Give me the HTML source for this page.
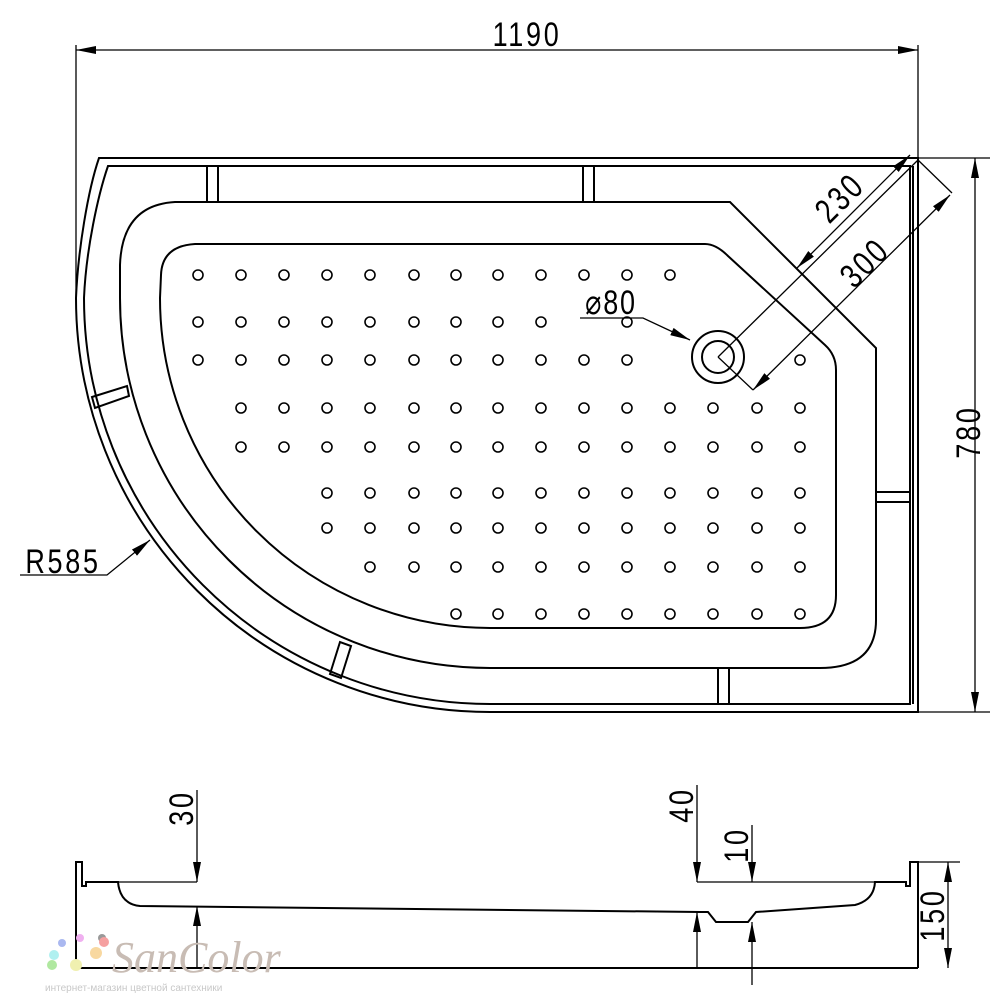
<!DOCTYPE html>
<html><head><meta charset="utf-8"><style>html,body{margin:0;padding:0;background:#fff}svg{display:block}</style></head>
<body>
<svg width="1000" height="1000" viewBox="0 0 1000 1000" xmlns="http://www.w3.org/2000/svg" font-family="Liberation Sans, sans-serif">
<defs>
<marker id="a" viewBox="0 0 20 8" refX="20" refY="4" markerWidth="20" markerHeight="8" markerUnits="userSpaceOnUse" orient="auto"><path d="M0,0L20,4L0,8z" fill="#000"/></marker>
<marker id="s" viewBox="0 0 20 8" refX="0" refY="4" markerWidth="20" markerHeight="8" markerUnits="userSpaceOnUse" orient="auto"><path d="M20,0L0,4L20,8z" fill="#000"/></marker>
</defs>
<g fill="none" stroke="#000" stroke-width="2">
<path d="M918,158 L99,158 C88,190 78,250 76,298 A414,414 0 0 0 490,712 L918,712 Z"/>
<path d="M910,166 L108,166 C98,195 86,250 84,298 A406,406 0 0 0 490,704 L910,704 Z"/>
<line x1="913" y1="166" x2="913" y2="704"/>
<path d="M730,202 L175,202 Q122,205 120,265 L120,298 A370,370 0 0 0 490,668 L820,668 Q876,668 876,620 L876,348 Z"/>
<path d="M705,244 L195,244 Q162,246 161,275 L160,298 A330,330 0 0 0 490,628 L800,628 Q836,628 836,595 L836,370 Q836,355 825,345 L728,256 Q716,244 705,244 Z"/>
<rect x="207" y="166" width="11" height="36"/>
<rect x="583" y="166" width="11" height="36"/>
<rect x="718" y="668" width="11" height="36"/>
<rect x="876" y="492" width="34" height="10"/>
<path d="M92,397 L127,386 L129,396 L95,408 Z"/>
<path d="M330,674 L340,642 L351,646 L341,678 Z"/>
<circle cx="718" cy="357" r="26"/>
<circle cx="718" cy="357" r="16"/>
</g>
<g fill="none" stroke="#000" stroke-width="1.6">
<circle cx="198" cy="275" r="5"/><circle cx="241" cy="275" r="5"/><circle cx="284" cy="275" r="5"/><circle cx="327" cy="275" r="5"/><circle cx="370" cy="275" r="5"/><circle cx="414" cy="275" r="5"/><circle cx="456" cy="275" r="5"/><circle cx="498" cy="275" r="5"/><circle cx="541" cy="275" r="5"/><circle cx="584" cy="275" r="5"/><circle cx="627" cy="275" r="5"/><circle cx="670" cy="275" r="5"/>
<circle cx="198" cy="322" r="5"/><circle cx="241" cy="322" r="5"/><circle cx="284" cy="322" r="5"/><circle cx="327" cy="322" r="5"/><circle cx="370" cy="322" r="5"/><circle cx="414" cy="322" r="5"/><circle cx="456" cy="322" r="5"/><circle cx="498" cy="322" r="5"/><circle cx="541" cy="322" r="5"/><circle cx="627" cy="322" r="5"/>
<circle cx="198" cy="360" r="5"/><circle cx="241" cy="360" r="5"/><circle cx="284" cy="360" r="5"/><circle cx="327" cy="360" r="5"/><circle cx="370" cy="360" r="5"/><circle cx="414" cy="360" r="5"/><circle cx="456" cy="360" r="5"/><circle cx="498" cy="360" r="5"/><circle cx="541" cy="360" r="5"/><circle cx="584" cy="360" r="5"/><circle cx="627" cy="360" r="5"/><circle cx="800" cy="360" r="5"/>
<circle cx="241" cy="408" r="5"/><circle cx="284" cy="408" r="5"/><circle cx="327" cy="408" r="5"/><circle cx="370" cy="408" r="5"/><circle cx="414" cy="408" r="5"/><circle cx="456" cy="408" r="5"/><circle cx="498" cy="408" r="5"/><circle cx="541" cy="408" r="5"/><circle cx="584" cy="408" r="5"/><circle cx="627" cy="408" r="5"/><circle cx="670" cy="408" r="5"/><circle cx="713" cy="408" r="5"/><circle cx="757" cy="408" r="5"/><circle cx="800" cy="408" r="5"/>
<circle cx="241" cy="447" r="5"/><circle cx="284" cy="447" r="5"/><circle cx="327" cy="447" r="5"/><circle cx="370" cy="447" r="5"/><circle cx="414" cy="447" r="5"/><circle cx="456" cy="447" r="5"/><circle cx="498" cy="447" r="5"/><circle cx="541" cy="447" r="5"/><circle cx="584" cy="447" r="5"/><circle cx="627" cy="447" r="5"/><circle cx="670" cy="447" r="5"/><circle cx="713" cy="447" r="5"/><circle cx="757" cy="447" r="5"/><circle cx="800" cy="447" r="5"/>
<circle cx="327" cy="493" r="5"/><circle cx="370" cy="493" r="5"/><circle cx="414" cy="493" r="5"/><circle cx="456" cy="493" r="5"/><circle cx="498" cy="493" r="5"/><circle cx="541" cy="493" r="5"/><circle cx="584" cy="493" r="5"/><circle cx="627" cy="493" r="5"/><circle cx="670" cy="493" r="5"/><circle cx="713" cy="493" r="5"/><circle cx="757" cy="493" r="5"/><circle cx="800" cy="493" r="5"/>
<circle cx="327" cy="528" r="5"/><circle cx="370" cy="528" r="5"/><circle cx="414" cy="528" r="5"/><circle cx="456" cy="528" r="5"/><circle cx="498" cy="528" r="5"/><circle cx="541" cy="528" r="5"/><circle cx="584" cy="528" r="5"/><circle cx="627" cy="528" r="5"/><circle cx="670" cy="528" r="5"/><circle cx="713" cy="528" r="5"/><circle cx="757" cy="528" r="5"/><circle cx="800" cy="528" r="5"/>
<circle cx="370" cy="567" r="5"/><circle cx="414" cy="567" r="5"/><circle cx="456" cy="567" r="5"/><circle cx="498" cy="567" r="5"/><circle cx="541" cy="567" r="5"/><circle cx="584" cy="567" r="5"/><circle cx="627" cy="567" r="5"/><circle cx="670" cy="567" r="5"/><circle cx="713" cy="567" r="5"/><circle cx="757" cy="567" r="5"/><circle cx="800" cy="567" r="5"/>
<circle cx="456" cy="614" r="5"/><circle cx="498" cy="614" r="5"/><circle cx="541" cy="614" r="5"/><circle cx="584" cy="614" r="5"/><circle cx="627" cy="614" r="5"/><circle cx="670" cy="614" r="5"/><circle cx="713" cy="614" r="5"/><circle cx="757" cy="614" r="5"/><circle cx="800" cy="614" r="5"/>
</g>
<g fill="none" stroke="#000" stroke-width="1.3">
<line x1="76" y1="45" x2="76" y2="300"/>
<line x1="918" y1="45" x2="918" y2="158"/>
<line x1="76" y1="50" x2="918" y2="50" marker-start="url(#s)" marker-end="url(#a)"/>
<line x1="918" y1="158" x2="990" y2="158"/>
<line x1="918" y1="712" x2="990" y2="712"/>
<line x1="975" y1="158" x2="975" y2="712" marker-start="url(#s)" marker-end="url(#a)"/>
<line x1="718" y1="357" x2="918" y2="160"/>
<line x1="918" y1="160" x2="952" y2="193"/>
<line x1="718" y1="357" x2="753" y2="390"/>
<line x1="753" y1="390" x2="950" y2="195" marker-start="url(#s)" marker-end="url(#a)"/>
<line x1="797" y1="268" x2="910" y2="155" marker-start="url(#s)" marker-end="url(#a)"/>
<polyline points="580,318 643,318 690,340" marker-end="url(#a)"/>
<polyline points="20,575 107,575 150,540" marker-end="url(#a)"/>
</g>
<g font-size="30" fill="#000">
<text transform="translate(527,46) scale(0.9,1.15)" text-anchor="middle" letter-spacing="3">1190</text>
<text transform="translate(980,432) rotate(-90) scale(0.9,1.15)" text-anchor="middle" letter-spacing="3">780</text>
<text transform="translate(848,206) rotate(-45) scale(0.9,1.15)" text-anchor="middle" letter-spacing="3">230</text>
<text transform="translate(873,271) rotate(-45) scale(0.9,1.15)" text-anchor="middle" letter-spacing="3">300</text>
<text transform="translate(611,314) scale(0.9,1.15)" text-anchor="middle" letter-spacing="2">⌀80</text>
<text transform="translate(63,573) scale(0.9,1.15)" text-anchor="middle" letter-spacing="3">R585</text>
</g>
<g fill="none" stroke="#000" stroke-width="2">
<line x1="76" y1="968" x2="918" y2="968"/>
<path d="M76,968 L76,862 L82,862 L82,886 L86,886 L86,882 L118,882 Q120,904 140,906 L700,912 L708,912 L716,922 L748,922 L756,912 L855,905 Q874,900 875,882 L906,882 L906,886 L910,886 L910,862 L918,862 L918,968"/>
<line x1="118" y1="882" x2="197" y2="882" stroke-width="1.3"/>
<line x1="697" y1="882" x2="875" y2="882" stroke-width="1.3"/>
</g>
<g fill="none" stroke="#000" stroke-width="1.3">
<line x1="197" y1="790" x2="197" y2="882" marker-end="url(#a)"/>
<line x1="197" y1="968" x2="197" y2="906" marker-end="url(#a)"/>
<line x1="697" y1="785" x2="697" y2="882" marker-end="url(#a)"/>
<line x1="697" y1="968" x2="697" y2="912" marker-end="url(#a)"/>
<line x1="752" y1="825" x2="752" y2="882" marker-end="url(#a)"/>
<line x1="752" y1="985" x2="752" y2="922" marker-end="url(#a)"/>
<line x1="918" y1="862" x2="960" y2="862"/>
<line x1="948" y1="862" x2="948" y2="968" marker-start="url(#s)" marker-end="url(#a)"/>
</g>
<g font-size="30" fill="#000">
<text transform="translate(193,808) rotate(-90) scale(0.9,1.15)" text-anchor="middle" letter-spacing="3">30</text>
<text transform="translate(693,805) rotate(-90) scale(0.9,1.15)" text-anchor="middle" letter-spacing="3">40</text>
<text transform="translate(748,845) rotate(-90) scale(0.9,1.15)" text-anchor="middle" letter-spacing="3">10</text>
<text transform="translate(944,915) rotate(-90) scale(0.9,1.15)" text-anchor="middle" letter-spacing="3">150</text>
</g>
<text x="112" y="972" font-family="Liberation Serif, serif" font-style="italic" font-size="44" fill="#c8bcb4">SanColor</text>
<text x="45" y="991" font-size="10" fill="#c8c8c8">интернет-магазин цветной сантехники</text>
<circle cx="62" cy="943" r="4" fill="#aab8f0"/><circle cx="80" cy="938" r="4" fill="#f0b0f0"/><circle cx="102" cy="938" r="4" fill="#999"/><circle cx="104" cy="942" r="5" fill="#f5a0a0"/><circle cx="96" cy="953" r="6" fill="#f8d8a0"/><circle cx="54" cy="955" r="5" fill="#b0f0f0"/><circle cx="52" cy="965" r="5" fill="#b0e8a0"/><circle cx="76" cy="965" r="6" fill="#f0f0b0"/>
</svg>
</body></html>
